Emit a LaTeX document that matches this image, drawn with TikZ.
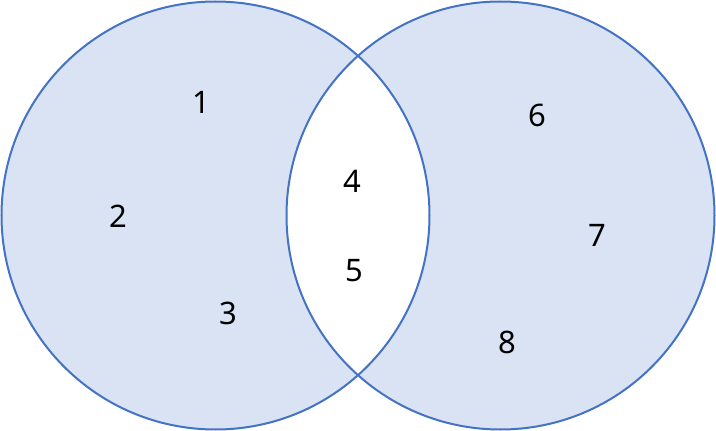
\documentclass[tikz,border=0pt]{standalone}
\usepackage{fontspec}
\setmainfont{Noto Sans}
\definecolor{ringblue}{HTML}{4472C4}
\definecolor{fillblue}{HTML}{DAE3F3}
\begin{document}
\begin{tikzpicture}[x=1pt, y=-1pt, num/.style={font=\fontsize{31}{36}\selectfont}]
\useasboundingbox (0,0) rectangle (716,431);
\coordinate (A) at (215.5,215.5);
\coordinate (B) at (500.5,215.5);

\fill[fillblue, even odd rule](A) circle (214) (B) circle (214);
\draw[ringblue, line width=2pt](A) circle (214);
\draw[ringblue, line width=2pt](B) circle (214);

\node[num] (n1) at (201,102) {1};
\node[num] (n2) at (118,216) {2};
\node[num] (n3) at (228,313) {3};
\node[num] (n4) at (352,181) {4};
\node[num] (n5) at (354,271) {5};
\node[num] (n6) at (537,115) {6};
\node[num] (n7) at (597,235) {7};
\node[num] (n8) at (507,342) {8};
\end{tikzpicture}
\end{document}
